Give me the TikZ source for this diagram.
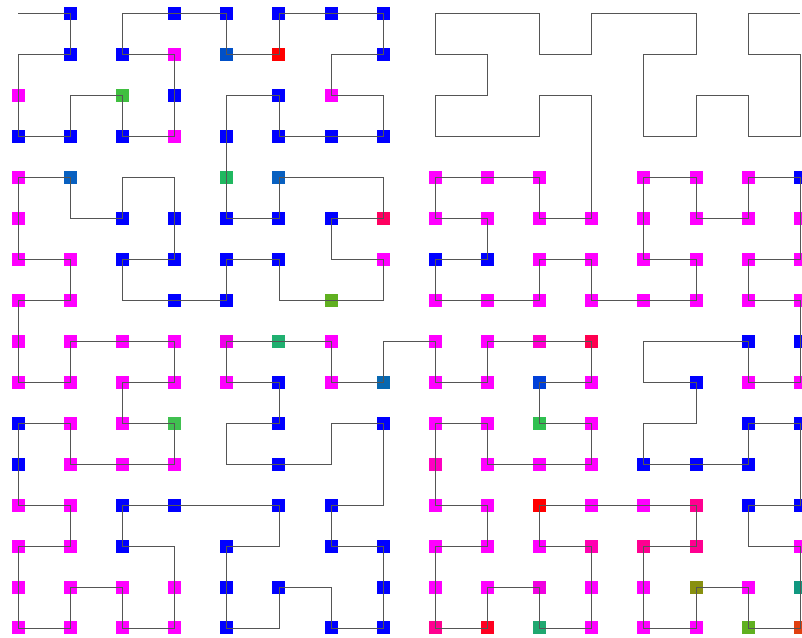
\documentclass[tikz,border=0pt]{standalone}
\usepackage{tikz}
\definecolor{cB}{HTML}{0000FF}
\definecolor{cM}{HTML}{FF00FF}
\definecolor{cR}{HTML}{FF0000}
\definecolor{g1}{HTML}{40BF40}
\definecolor{b1}{HTML}{0050C8}
\definecolor{b2}{HTML}{0860C0}
\definecolor{g2}{HTML}{20B860}
\definecolor{r1}{HTML}{FF0060}
\definecolor{o1}{HTML}{60B020}
\definecolor{m1}{HTML}{F000E8}
\definecolor{g3}{HTML}{20B070}
\definecolor{b3}{HTML}{0868B0}
\definecolor{g4}{HTML}{40C050}
\definecolor{m2}{HTML}{FF00D0}
\definecolor{r2}{HTML}{FF0050}
\definecolor{b4}{HTML}{0040D8}
\definecolor{g5}{HTML}{30C050}
\definecolor{m3}{HTML}{FF00C0}
\definecolor{p1}{HTML}{FF0090}
\definecolor{m4}{HTML}{FF00B0}
\definecolor{m5}{HTML}{F000E0}
\definecolor{y1}{HTML}{889010}
\definecolor{t1}{HTML}{109880}
\definecolor{r3}{HTML}{FF0020}
\definecolor{g6}{HTML}{20A870}
\definecolor{o2}{HTML}{E04010}
\definecolor{linegray}{HTML}{555555}
\newcommand\hilstep[1]{%
  \pgfmathtruncatemacro\hilRX{mod(floor(\hilT/2),2)}%
  \pgfmathtruncatemacro\hilRY{mod(\hilT+\hilRX,2)}%
  \ifnum\hilRY=0\relax
    \ifnum\hilRX=1\relax
      \pgfmathtruncatemacro\hilX{#1-1-\hilX}%
      \pgfmathtruncatemacro\hilY{#1-1-\hilY}%
    \fi
    \let\hilTmp\hilX \let\hilX\hilY \let\hilY\hilTmp
  \fi
  \pgfmathtruncatemacro\hilX{\hilX+#1*\hilRX}%
  \pgfmathtruncatemacro\hilY{\hilY+#1*\hilRY}%
  \pgfmathtruncatemacro\hilT{floor(\hilT/4)}%
}
\begin{document}
\begin{tikzpicture}[x=1pt,y=-1pt,
  sq/.style={rectangle,minimum size=13pt,inner sep=0pt,draw=none},
  curve/.style={draw=linegray,line width=0.8pt}]
\useasboundingbox (0,0) rectangle (802,637);
\foreach \cc/\rr/\kk in {
 1/0/cB,3/0/cB,4/0/cB,5/0/cB,6/0/cB,7/0/cB,
 1/1/cB,2/1/cB,3/1/cM,4/1/b1,5/1/cR,7/1/cB,
 0/2/cM,2/2/g1,3/2/cB,5/2/cB,6/2/cM,
 0/3/cB,1/3/cB,2/3/cB,3/3/cM,4/3/cB,5/3/cB,6/3/cB,7/3/cB,
 0/4/cM,1/4/b2,4/4/g2,5/4/b2,8/4/cM,9/4/cM,10/4/cM,12/4/cM,13/4/cM,14/4/cM,15/4/cB,
 0/5/cM,2/5/cB,3/5/cB,4/5/cB,5/5/cB,6/5/cB,7/5/r1,8/5/cM,9/5/cM,10/5/cM,11/5/cM,12/5/cM,13/5/cM,14/5/cM,15/5/cM,
 0/6/cM,1/6/cM,2/6/cB,3/6/cB,4/6/cB,5/6/cB,7/6/cM,8/6/cB,9/6/cB,10/6/cM,11/6/cM,12/6/cM,13/6/cM,14/6/cM,15/6/cM,
 0/7/cM,1/7/cM,3/7/cB,4/7/cB,6/7/o1,8/7/cM,9/7/cM,10/7/cM,11/7/cM,12/7/cM,13/7/cM,14/7/cM,15/7/cM,
 0/8/cM,1/8/cM,2/8/cM,3/8/cM,4/8/m1,5/8/g3,6/8/cM,8/8/cM,9/8/cM,10/8/m2,11/8/r2,14/8/cB,15/8/cB,
 0/9/cM,1/9/cM,2/9/cM,3/9/cM,4/9/cM,5/9/cB,6/9/cM,7/9/b3,8/9/cM,9/9/cM,10/9/b4,11/9/cM,13/9/cB,14/9/cM,15/9/cM,
 0/10/cB,1/10/cM,2/10/cM,3/10/g4,5/10/cB,7/10/cB,8/10/cM,9/10/cM,10/10/g5,11/10/cM,14/10/cB,15/10/cB,
 0/11/cB,1/11/cM,2/11/cM,3/11/cM,5/11/cB,8/11/m3,9/11/cM,10/11/cM,11/11/cM,12/11/cB,13/11/cB,14/11/cB,
 0/12/cM,1/12/cM,2/12/cB,3/12/cB,5/12/cB,6/12/cB,8/12/cM,9/12/cM,10/12/cR,11/12/cM,12/12/cM,13/12/p1,14/12/cB,15/12/cB,
 0/13/cM,1/13/cM,2/13/cB,4/13/cB,6/13/cB,7/13/cB,8/13/cM,9/13/cM,10/13/cM,11/13/m4,12/13/p1,13/13/p1,15/13/cM,
 0/14/cM,1/14/cM,2/14/cM,3/14/cM,4/14/cB,5/14/cB,7/14/cB,8/14/cM,9/14/cM,10/14/m5,11/14/cM,12/14/cM,13/14/y1,14/14/cM,15/14/t1,
 0/15/cM,1/15/cM,2/15/cM,3/15/cM,4/15/cB,6/15/cB,7/15/cB,8/15/p1,9/15/r3,10/15/g6,11/15/cM,12/15/cM,13/15/cM,14/15/o1,15/15/o2}
 \node[sq,fill=\kk] (s\cc-\rr) at ({18.3+52.13*\cc},{13.7+40.95*\rr}) {};
\foreach \d in {0,...,255}{%
  \pgfmathtruncatemacro\hilT{\d}%
  \def\hilX{0}\def\hilY{0}%
  \hilstep{1}\hilstep{2}\hilstep{4}\hilstep{8}%
  \coordinate (h\d) at ({18.3+52.13*\hilX},{13.7+40.95*\hilY});
}
\draw[curve] (h0) \foreach \d in {1,...,255}{ -- (h\d)};
\end{tikzpicture}
\end{document}
